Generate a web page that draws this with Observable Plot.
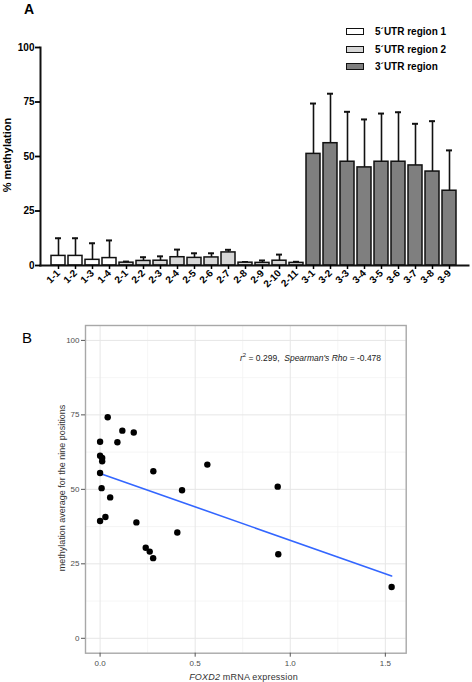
<!DOCTYPE html>
<html>
<head>
<meta charset="utf-8">
<script src="https://cdn.jsdelivr.net/npm/d3@7"></script>
<script src="https://cdn.jsdelivr.net/npm/@observablehq/plot@0.6"></script>
<style>
  html, body { margin: 0; padding: 0; background: white; }
  #root { position: relative; width: 472px; height: 682px; background: white; font-family: "Liberation Sans", Arial, sans-serif; overflow: hidden; }
  #root svg { position: absolute; left: 0; }
  .lbl { position: absolute; white-space: nowrap; }
  .rot { transform: translate(-50%, -50%) rotate(-90deg); }
  .leg { position: absolute; left: 346px; width: 16px; height: 5px; border: 1.5px solid #111; }
  .legt { position: absolute; left: 375px; font-weight: bold; font-size: 10px; line-height: 12px; }
</style>
</head>
<body>
<div id="root"></div>
<script>
// ---------- Panel A data ----------
const positions = ["1-1","1-2","1-3","1-4","2-1","2-2","2-3","2-4","2-5","2-6","2-7","2-8","2-9","2-10","2-11","3-1","3-2","3-3","3-4","3-5","3-6","3-7","3-8","3-9"];
const regionNames = ["5´UTR region 1", "5´UTR region 2", "3´UTR region"];
const regionIndex = [0,0,0,0, 1,1,1,1,1,1,1,1,1,1,1, 2,2,2,2,2,2,2,2,2];
const meanMethylation = [4.4,4.4,2.6,3.4, 1.3,2.1,2.2,3.8,3.5,3.7,6.0,1.3,1.2,2.2,1.2, 51.2,56.1,47.6,45.0,47.6,47.6,45.9,43.1,34.3];
const sdMethylation = [8.1,8.1,7.6,8.1, 0.5,1.7,2.0,3.5,2.1,1.9,1.2,0.3,1.1,2.8,0.5, 23.1,22.7,22.9,22.0,22.1,22.7,19.1,23.1,18.5];
const yTicksA = [0, 25, 50, 75, 100];
const regionFills = ["white", "#d6d6d6", "#7f7f7f"];

// ---------- Panel B data ----------
const foxd2Expression = [0.040,0.000,0.117,0.177,0.091,0.000,0.011,0.011,0.000,0.280,0.564,0.008,0.053,0.000,0.028,0.191,0.240,0.261,0.279,0.406,0.431,0.934,0.937,1.533];
const methylationAverage = [74.2,66.0,69.7,69.1,65.8,61.3,60.5,59.4,55.5,56.1,58.3,50.4,47.3,39.4,40.7,38.9,30.4,29.1,26.9,35.5,49.7,50.9,28.2,17.2];
const xTicksB = [0, 0.5, 1, 1.5];
const xMinorB = [0.25, 0.75, 1.25];
const yTicksB = [0, 25, 50, 75, 100];
const yMinorB = [12.5, 37.5, 62.5, 87.5];

const root = document.getElementById("root");
const font = '"Liberation Sans", Arial, sans-serif';

const barData = positions.map((p, i) => ({
  pos: p, region: regionNames[regionIndex[i]], mean: meanMethylation[i], sd: sdMethylation[i]
}));

const chartA = Plot.plot({
  width: 472, height: 300,
  marginLeft: 40, marginRight: 4, marginTop: 47, marginBottom: 35,
  style: { fontFamily: font, fontSize: "10px", fontWeight: "bold", color: "black", background: "transparent" },
  x: { domain: positions, paddingInner: 0.15, paddingOuter: 0.05, label: null },
  y: { domain: [0, 100], label: null },
  color: { domain: regionNames, range: regionFills },
  marks: [
    Plot.ruleX(barData, { x: "pos", y1: "mean", y2: d => d.mean + d.sd, stroke: "#111", strokeWidth: 1.6 }),
    Plot.tickY(barData, { x: "pos", y: d => d.mean + d.sd, stroke: "#111", strokeWidth: 2, insetLeft: 4, insetRight: 4 }),
    Plot.barY(barData, { x: "pos", y: "mean", fill: "region", stroke: "#111", strokeWidth: 1.5 }),
    Plot.frame({ anchor: "left", stroke: "#111", strokeWidth: 2 }),
    Plot.frame({ anchor: "bottom", stroke: "#111", strokeWidth: 2 }),
    Plot.axisY({ ticks: yTicksA, tickSize: 5, tickPadding: 1, strokeWidth: 1.8, label: null }),
    Plot.axisX({ tickSize: 4, tickPadding: 2, tickRotate: -45, strokeWidth: 1.5, label: null })
  ]
});
chartA.style.top = "0px";
root.appendChild(chartA);

const pts = foxd2Expression.map((x, i) => ({ x, y: methylationAverage[i] }));

const chartB = Plot.plot({
  width: 472, height: 382,
  marginLeft: 85, marginRight: 66.3, marginTop: 25, marginBottom: 29.3,
  style: { fontFamily: font, fontSize: "8px", color: "#4d4d4d", background: "transparent" },
  x: { domain: [-0.0767, 1.6097], label: null },
  y: { domain: [-5, 105], label: null },
  marks: [
    Plot.gridX({ ticks: xMinorB, stroke: "#f0f0f0", strokeOpacity: 1, strokeWidth: 0.7 }),
    Plot.gridY({ ticks: yMinorB, stroke: "#f0f0f0", strokeOpacity: 1, strokeWidth: 0.7 }),
    Plot.gridX({ ticks: xTicksB, stroke: "#e6e6e6", strokeOpacity: 1, strokeWidth: 1 }),
    Plot.gridY({ ticks: yTicksB, stroke: "#e6e6e6", strokeOpacity: 1, strokeWidth: 1 }),
    Plot.frame({ stroke: "#a8a8a8", strokeWidth: 1.4 }),
    Plot.axisX({ ticks: xTicksB, tickFormat: d3.format(".1f"), tickSize: 4, tickPadding: 3, stroke: "#555", label: null }),
    Plot.axisY({ ticks: yTicksB, tickSize: 4, tickPadding: 2, stroke: "#555", label: null }),
    Plot.linearRegressionY(pts, { x: "x", y: "y", ci: 0, stroke: "#3366FF", strokeWidth: 1.6 }),
    Plot.dot(pts, { x: "x", y: "y", r: 3.2, fill: "black", stroke: "none" })
  ]
});
chartB.style.top = "300px";
root.appendChild(chartB);

// ---------- text labels ----------
function addLabel(html, style, cls) {
  const d = document.createElement("div");
  d.className = "lbl" + (cls ? " " + cls : "");
  d.innerHTML = html;
  Object.assign(d.style, style);
  root.appendChild(d);
  return d;
}
addLabel("A", { left: "24px", top: "1px", fontSize: "14px", fontWeight: "bold", lineHeight: "16px" });
addLabel("B", { left: "22px", top: "329px", fontSize: "15px", lineHeight: "17px" });
addLabel("% methylation", { left: "7px", top: "155px", fontSize: "11px", fontWeight: "bold" }, "rot");

// legend
regionNames.forEach((name, i) => {
  const box = document.createElement("div");
  box.className = "leg";
  box.style.top = (28 + i * 17.5) + "px";
  box.style.background = regionFills[i];
  root.appendChild(box);
  addLabel(name, { top: (26 + i * 17.5) + "px" }, "legt");
});

addLabel("<i>r</i><sup style='font-size:6px;vertical-align:4px'>2</sup> = 0.299,&nbsp; <i>Spearman's Rho</i> = -0.478",
  { left: "240px", top: "350px", fontSize: "8.5px", color: "#222", lineHeight: "11px" });
addLabel("methylation average for the nine positions", { left: "62px", top: "488px", fontSize: "9px", color: "#333" }, "rot");
addLabel("<i>FOXD2</i> mRNA expression", { left: "243.5px", top: "676.5px", fontSize: "9px", color: "#333", transform: "translate(-50%,-50%)", letterSpacing: "0.2px" });
</script>
</body>
</html>
